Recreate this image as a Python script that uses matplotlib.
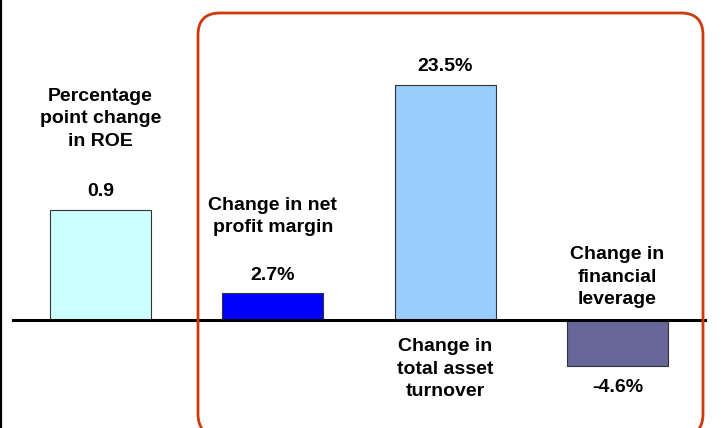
import matplotlib
matplotlib.use("Agg")
import matplotlib.pyplot as plt
from matplotlib.patches import FancyBboxPatch
from matplotlib.lines import Line2D

# Data
categories = ["Percentage\npoint change\nin ROE",
              "Change in net\nprofit margin",
              "Change in\ntotal asset\nturnover",
              "Change in\nfinancial\nleverage"]
bar_heights = [11.0, 2.7, 23.5, -4.6]          # drawn heights
value_labels = ["0.9", "2.7%", "23.5%", "-4.6%"]
bar_colors = ["#CCFFFF", "#0000FF", "#99CCFF", "#666699"]
label_y = [20.1, 10.35, -4.9, 4.3]              # category label centres (data units)

W, H = 727, 428
fig = plt.figure(figsize=(W / 100, H / 100), dpi=100)
fig.patch.set_facecolor("white")
ax = fig.add_axes([0, 0, 1, 1])
ax.set_axis_off()

step = 172.3
x0 = 100.5
ax.set_xlim(-x0 / step, (W - x0) / step)
ax.set_ylim(-(H - 320) / 10, 320 / 10)

xs = list(range(len(categories)))
ax.bar(xs, bar_heights, width=101 / step, color=bar_colors,
       edgecolor="#333333", linewidth=0.8, zorder=3)

# baseline
ax.add_line(Line2D([13 / W, 705 / W], [(H - 320) / H] * 2, transform=ax.transAxes,
                   color="black", linewidth=2.2, zorder=4))

font = dict(family=["Liberation Sans", "DejaVu Sans"], fontweight="bold", fontsize=14)
for x, h, lab in zip(xs, bar_heights, value_labels):
    y = h + 1.8 if h >= 0 else h - 2.1
    ax.text(x, y, lab, ha="center", va="center", **font, zorder=5)
for x, cat, ly in zip(xs, categories, label_y):
    ax.text(x, ly, cat, ha="center", va="center", linespacing=1.4, **font, zorder=5)

# left frame line
fig.add_artist(Line2D([1.5 / W, 1.5 / W], [0, 1], transform=fig.transFigure,
                      color="black", linewidth=1.6))

# red rounded box (pixel coords)
box = FancyBboxPatch((198, H - 436), 703 - 198, 436 - 13,
                     boxstyle="round,pad=0,rounding_size=22",
                     transform=None, facecolor="none", edgecolor="#CF3A0C",
                     linewidth=2.0, zorder=6)
fig.add_artist(box)

fig.savefig("out.png", dpi=100, facecolor="white")
